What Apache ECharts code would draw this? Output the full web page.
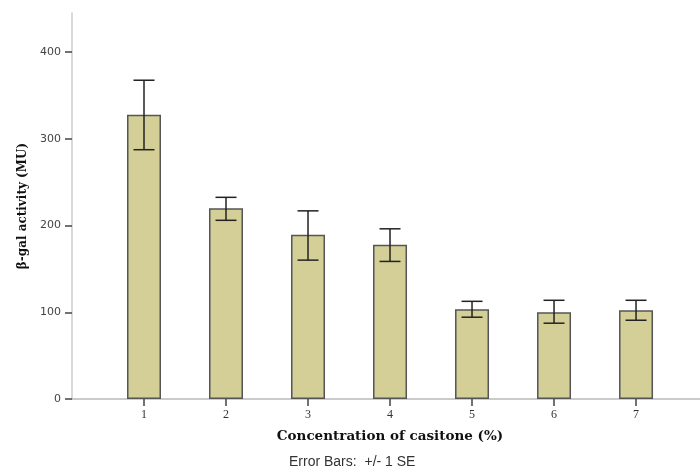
<!DOCTYPE html>
<html>
<head>
<meta charset="utf-8">
<script src="https://cdn.jsdelivr.net/npm/echarts@6/dist/echarts.min.js"></script>
<style>
html,body{margin:0;padding:0;background:#fff;}
#chart{width:700px;height:474px;}
</style>
</head>
<body>
<div id="chart"></div>
<script>
// Data
var categories = [1, 2, 3, 4, 5, 6, 7];
var means = [327.6, 219.9, 189.3, 177.8, 103.4, 100.0, 102.3];
var errUpper = [367.5, 232.5, 216.9, 196.2, 112.6, 113.8, 113.8];
var errLower = [287.4, 206.0, 160.1, 158.6, 94.3, 87.4, 90.8];
var yTicks = [0, 100, 200, 300, 400];

var barData = categories.map(function (c, i) { return [c, means[i]]; });
var errData = categories.map(function (c, i) { return [c, errLower[i], errUpper[i]]; });

var chart = echarts.init(document.getElementById('chart'));
chart.setOption({
  animation: false,
  backgroundColor: '#ffffff',
  grid: { left: 72, right: 0, top: 13, bottom: 75, containLabel: false },
  graphic: [{
    type: 'text',
    left: 289, top: 455,
    style: {
      text: 'Error Bars:  +/- 1 SE',
      font: '14px "Liberation Sans", Arial, sans-serif',
      fill: '#333'
    }
  }],
  xAxis: {
    type: 'value',
    min: 0.122,
    max: 7.78,
    name: 'Concentration of casitone (%)',
    nameLocation: 'middle',
    nameGap: 30,
    nameTextStyle: { fontFamily: '"DejaVu Serif", serif', fontWeight: 'bold', fontSize: 13.5, color: '#111', padding: [0, 0, 0, 8] },
    axisLine: { show: true, onZero: false, lineStyle: { color: '#bbb', width: 1.5 } },
    axisTick: { show: true, customValues: categories, length: 7, lineStyle: { color: '#444', width: 1.5 } },
    axisLabel: { customValues: categories, margin: 10, fontFamily: '"Liberation Serif", "Times New Roman", serif', fontSize: 12, color: '#333' },
    splitLine: { show: false }
  },
  yAxis: {
    type: 'value',
    min: 0,
    max: 445,
    name: 'β-gal activity (MU)',
    nameLocation: 'middle',
    nameGap: 43,
    nameRotate: 90,
    nameTextStyle: { fontFamily: '"DejaVu Serif", serif', fontWeight: 'bold', fontSize: 12, color: '#111' },
    axisLine: { show: true, lineStyle: { color: '#ccc', width: 1.5 } },
    axisTick: { show: true, customValues: yTicks, length: 7, lineStyle: { color: '#444', width: 1.5 } },
    axisLabel: { customValues: yTicks, margin: 11, fontFamily: '"DejaVu Sans", Verdana, sans-serif', fontSize: 11, color: '#444' },
    splitLine: { show: false }
  },
  series: [{
    type: 'bar',
    data: barData,
    barWidth: 34,
    itemStyle: { color: '#d3cf97', borderColor: '#555', borderWidth: 1.5 },
    z: 2
  }, {
    type: 'custom',
    data: errData,
    z: 3,
    renderItem: function (params, api) {
      var x = api.value(0);
      var lo = api.coord([x, api.value(1)]);
      var hi = api.coord([x, api.value(2)]);
      var half = 10.5;
      var style = { stroke: '#222', lineWidth: 1.5 };
      return {
        type: 'group',
        children: [
          { type: 'line', shape: { x1: hi[0], y1: hi[1], x2: lo[0], y2: lo[1] }, style: style },
          { type: 'line', shape: { x1: hi[0] - half, y1: hi[1], x2: hi[0] + half, y2: hi[1] }, style: style },
          { type: 'line', shape: { x1: lo[0] - half, y1: lo[1], x2: lo[0] + half, y2: lo[1] }, style: style }
        ]
      };
    }
  }]
});
</script>
</body>
</html>
